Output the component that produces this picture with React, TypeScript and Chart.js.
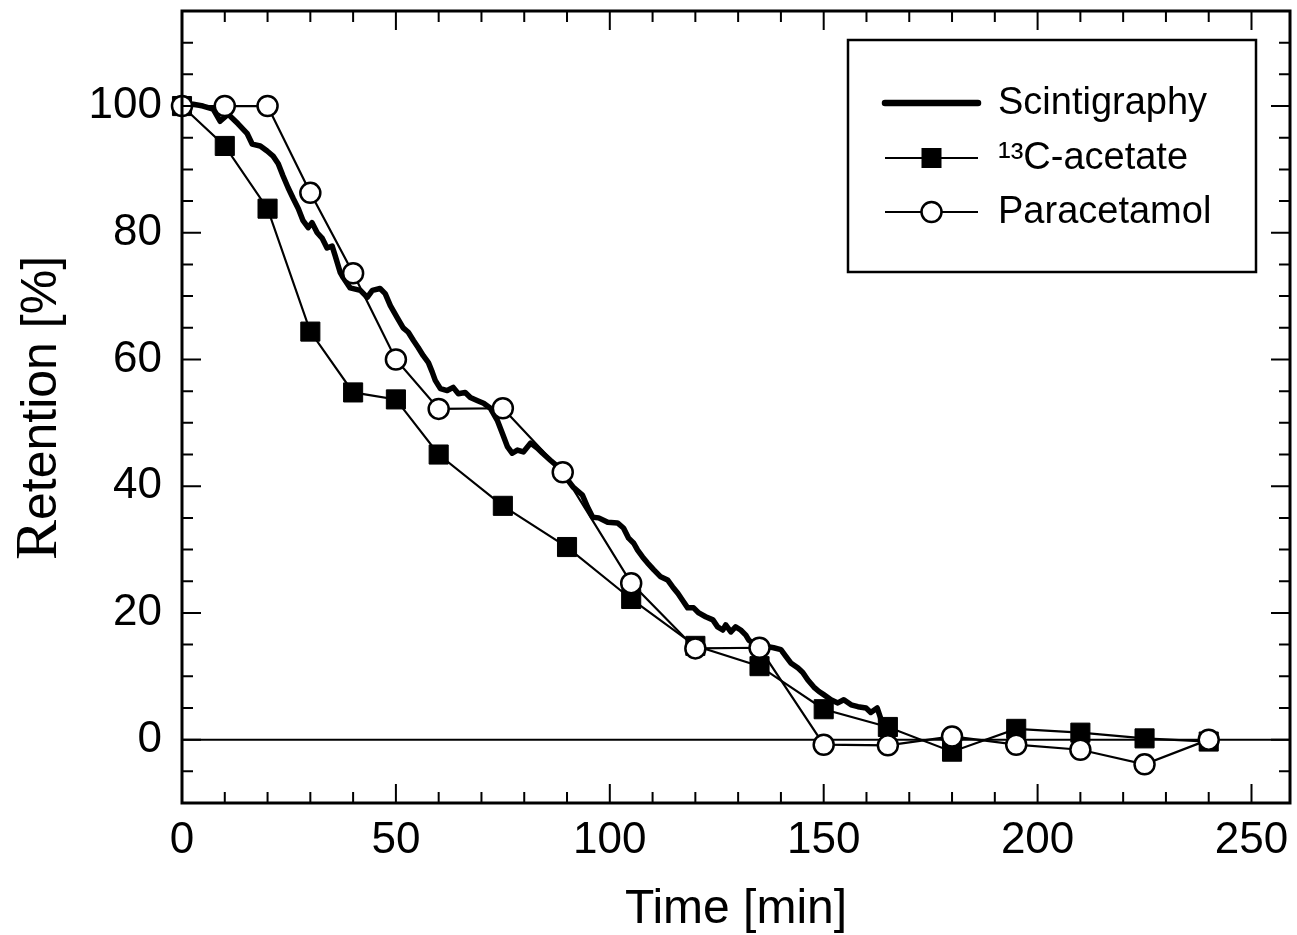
import React, { useEffect, useRef } from "react";
import { Chart, registerables } from "chart.js";

Chart.register(...registerables);

// ---- data ----
const scintTime = [
  0, 2.6, 4.9, 7.3, 8.9, 10.8, 13.1, 15.2, 16.4, 18.3, 19.9, 21.3, 22.5, 23.6, 24.8, 26.0, 27.2, 28.3, 29.5,
  30.4, 31.6, 32.8, 33.9, 35.1, 35.8, 37.0, 37.7, 39.3, 41.7, 43.3, 44.5, 46.3, 47.5, 48.7, 50.3, 51.7, 52.9,
  54.1, 55.2, 56.4, 57.6, 58.5, 59.2, 60.4, 62.0, 63.4, 64.6, 66.2, 67.4, 69.1, 70.5, 72.1, 73.7, 74.9, 76.1,
  77.2, 78.4, 79.8, 81.5, 83.1, 84.3, 86.1, 88.0, 89.7, 91.5, 93.6, 94.8, 96.0, 97.4, 99.5, 101.8, 103.2,
  104.4, 105.6, 106.5, 107.7, 108.8, 110.3, 111.9, 113.5, 114.7, 115.9, 117.0, 118.2, 119.6, 120.8, 122.4,
  124.1, 125.2, 126.4, 127.1, 128.3, 129.4, 130.6, 131.8, 132.5, 134.0, 136.0, 138.3, 140.0, 141.2, 142.3,
  144.0, 145.1, 146.3, 147.7, 148.9, 150.0, 151.7, 153.3, 154.7, 156.4, 158.0, 159.9, 161.0, 162.5, 163.5,
];
const scintRetention = [
  100, 100.3, 100, 99.5, 97.6, 98.7, 97.2, 95.7, 94.0, 93.7, 92.9, 92.1, 90.9, 89.0, 87.1, 85.4, 83.8, 81.9, 80.8,
  81.6, 80.0, 79.1, 77.6, 77.9, 76.4, 73.7, 72.9, 71.3, 70.9, 69.8, 70.9, 71.2, 70.4, 68.5, 66.6, 65.0, 64.3,
  63.0, 61.9, 60.6, 59.5, 58.0, 56.7, 55.4, 55.1, 55.6, 54.6, 54.8, 54.0, 53.5, 53.1, 52.3, 50.4, 48.3, 46.2,
  45.2, 45.7, 45.4, 46.8, 46.0, 45.2, 44.1, 43.0, 41.4, 39.8, 38.6, 36.7, 35.1, 35.0, 34.3, 34.2, 33.4,
  31.8, 31.0, 29.9, 28.8, 27.9, 26.8, 25.7, 25.2, 24.1, 23.1, 22.0, 20.8, 20.8, 20.0, 19.4,
  18.9, 17.8, 17.3, 18.1, 17.0, 17.8, 17.3, 16.5, 15.7, 15.0, 14.8, 14.5, 14.2, 13.1, 12.1,
  11.3, 10.6, 9.4, 8.3, 7.6, 7.1, 6.3, 5.8, 6.3, 5.5, 5.2, 5.0, 4.3, 5.0, 3.0,
];

const acetateTime = [0, 10, 20, 30, 40, 50, 60, 75, 90, 105, 120, 135, 150, 165, 180, 195, 210, 225, 240];
const acetateRetention = [100, 93.7, 83.8, 64.4, 54.8, 53.7, 45.0, 36.9, 30.4, 22.2, 14.8, 11.6, 4.8, 2.0, -1.9, 1.7, 1.1, 0.2, -0.3];

const paracetamolTime = [0, 10, 20, 30, 40, 50, 60, 75, 89, 105, 120, 135, 150, 165, 180, 195, 210, 225, 240];
const paracetamolRetention = [100, 100, 100, 86.3, 73.6, 60.0, 52.2, 52.3, 42.2, 24.7, 14.4, 14.5, -0.8, -0.9, 0.5, -0.8, -1.6, -3.9, 0];

const seriesLabels = ["Scintigraphy", "\u00B9\u00B3C-acetate", "Paracetamol"];
const xTickValues = [0, 50, 100, 150, 200, 250];
const yTickValues = [0, 20, 40, 60, 80, 100];
const xTitle = "Time [min]";
const yTitle = "Retention [%]";

const SANS = "'Liberation Sans', Arial, Helvetica, sans-serif";
const SERIF = "'Liberation Serif', 'Times New Roman', serif";

const toPoints = (xs: number[], ys: number[]) => xs.map((x, i) => ({ x, y: ys[i] }));

const frameTicksPlugin = {
  id: "frameTicks",
  beforeDatasetsDraw(chart: any) {
    const { ctx, chartArea, scales } = chart;
    const y0 = scales.y.getPixelForValue(0);
    ctx.save();
    ctx.strokeStyle = "#000";
    ctx.lineWidth = 2;
    ctx.beginPath();
    ctx.moveTo(chartArea.left, y0);
    ctx.lineTo(chartArea.right, y0);
    ctx.stroke();
    ctx.restore();
  },
  afterDatasetsDraw(chart: any) {
    const { ctx, chartArea, scales } = chart;
    const { left, right, top, bottom } = chartArea;
    const xs = scales.x;
    const ys = scales.y;
    ctx.save();
    ctx.strokeStyle = "#000";
    ctx.lineWidth = 2;
    ctx.beginPath();
    for (let v = 0; v <= xs.max; v += 10) {
      const px = xs.getPixelForValue(v);
      const len = v % 50 === 0 ? 19 : 11;
      ctx.moveTo(px, bottom);
      ctx.lineTo(px, bottom - len);
      ctx.moveTo(px, top);
      ctx.lineTo(px, top + len);
    }
    for (let v = -10; v <= ys.max; v += 5) {
      const py = ys.getPixelForValue(v);
      const len = v % 20 === 0 ? 19 : 11;
      ctx.moveTo(left, py);
      ctx.lineTo(left + len, py);
      ctx.moveTo(right, py);
      ctx.lineTo(right - len, py);
    }
    ctx.stroke();
    ctx.lineWidth = 3;
    ctx.strokeRect(left, top, right - left, bottom - top);
    ctx.restore();
  },
};

const yTitlePlugin = {
  id: "yTitle",
  afterDraw(chart: any) {
    const { ctx } = chart;
    const first = yTitle.slice(0, 1);
    const rest = yTitle.slice(1);
    ctx.save();
    ctx.translate(56, 408);
    ctx.rotate(-Math.PI / 2);
    ctx.fillStyle = "#000";
    ctx.textBaseline = "alphabetic";
    ctx.textAlign = "left";
    ctx.font = `60px ${SERIF}`;
    const wFirst = ctx.measureText(first).width;
    ctx.font = `50px ${SANS}`;
    const wRest = ctx.measureText(rest).width;
    const start = -(wFirst + wRest) / 2;
    ctx.font = `60px ${SERIF}`;
    ctx.fillText(first, start, 0);
    ctx.font = `50px ${SANS}`;
    ctx.fillText(rest, start + wFirst, 0);
    ctx.restore();
  },
};

const legendPlugin = {
  id: "boxLegend",
  afterDraw(chart: any) {
    const { ctx } = chart;
    const bx = 848, by = 40, bw = 408, bh = 232;
    ctx.save();
    ctx.fillStyle = "#fff";
    ctx.fillRect(bx, by, bw, bh);
    ctx.strokeStyle = "#000";
    ctx.lineWidth = 2.5;
    ctx.strokeRect(bx, by, bw, bh);
    const rows = [103, 158, 212];
    const x1 = 885, x2 = 978, xm = (x1 + x2) / 2;
    chart.data.datasets.forEach((ds: any, i: number) => {
      const ry = rows[i];
      ctx.strokeStyle = ds.borderColor;
      ctx.lineWidth = i === 0 ? 6.5 : ds.borderWidth;
      ctx.lineCap = i === 0 ? "round" : "butt";
      ctx.beginPath();
      ctx.moveTo(x1, ry);
      ctx.lineTo(x2, ry);
      ctx.stroke();
      if (ds.pointRadius > 0) {
        ctx.lineWidth = ds.pointBorderWidth;
        ctx.fillStyle = ds.pointBackgroundColor;
        ctx.strokeStyle = ds.pointBorderColor;
        if (ds.pointStyle === "rect") {
          const s = 19;
          ctx.fillRect(xm - s / 2, ry - s / 2, s, s);
          ctx.strokeRect(xm - s / 2, ry - s / 2, s, s);
        } else {
          ctx.beginPath();
          ctx.arc(xm, ry, ds.pointRadius, 0, Math.PI * 2);
          ctx.fill();
          ctx.stroke();
        }
      }
      ctx.fillStyle = "#000";
      ctx.font = `38px ${SANS}`;
      ctx.textBaseline = "middle";
      ctx.textAlign = "left";
      ctx.fillText(ds.label, 998, ry + 1);
    });
    ctx.restore();
  },
};

export default function App() {
  const canvasRef = useRef<HTMLCanvasElement | null>(null);

  useEffect(() => {
    const canvas = canvasRef.current;
    if (!canvas) return;
    const chart = new Chart(canvas, {
      type: "line",
      data: {
        datasets: [
          {
            label: seriesLabels[0],
            data: toPoints(scintTime, scintRetention),
            borderColor: "#000",
            borderWidth: 5.5,
            pointRadius: 0,
            borderJoinStyle: "round",
            borderCapStyle: "round",
            tension: 0,
            order: 3,
            clip: false,
          },
          {
            label: seriesLabels[1],
            data: toPoints(acetateTime, acetateRetention),
            borderColor: "#000",
            borderWidth: 2.2,
            pointStyle: "rect",
            pointRadius: 13.5,
            pointBorderWidth: 1,
            pointBackgroundColor: "#000",
            pointBorderColor: "#000",
            tension: 0,
            order: 2,
            clip: false,
          },
          {
            label: seriesLabels[2],
            data: toPoints(paracetamolTime, paracetamolRetention),
            borderColor: "#000",
            borderWidth: 2.2,
            pointStyle: "circle",
            pointRadius: 10,
            pointBorderWidth: 2.5,
            pointBackgroundColor: "#fff",
            pointBorderColor: "#000",
            tension: 0,
            order: 1,
            clip: false,
          },
        ] as any,
      },
      options: {
        responsive: false,
        animation: false,
        events: [],
        layout: { autoPadding: false, padding: { left: 0, right: 7, top: 11, bottom: 0 } },
        plugins: { legend: { display: false }, tooltip: { enabled: false } },
        scales: {
          x: {
            type: "linear",
            min: 0,
            max: 259,
            grid: { display: false, drawTicks: false },
            border: { display: false },
            afterBuildTicks: (scale: any) => {
              scale.ticks = xTickValues.map((v) => ({ value: v }));
            },
            afterFit: (scale: any) => {
              scale.height = 132;
              scale.paddingLeft = 0;
              scale.paddingRight = 0;
            },
            ticks: {
              color: "#000",
              font: { family: SANS, size: 44 },
              padding: 11,
              maxRotation: 0,
              autoSkip: false,
            },
            title: {
              display: true,
              text: xTitle,
              color: "#000",
              font: { family: SANS, size: 48 },
              padding: { top: 0, bottom: -4 },
            },
          },
          y: {
            type: "linear",
            min: -10,
            max: 115,
            grid: { display: false, drawTicks: false },
            border: { display: false },
            afterBuildTicks: (scale: any) => {
              scale.ticks = yTickValues.map((v) => ({ value: v }));
            },
            afterFit: (scale: any) => {
              scale.width = 182;
              scale.paddingTop = 0;
              scale.paddingBottom = 0;
            },
            ticks: {
              color: "#000",
              font: { family: SANS, size: 44 },
              padding: 20,
              autoSkip: false,
            },
          },
        },
      } as any,
      plugins: [frameTicksPlugin, yTitlePlugin, legendPlugin],
    });
    return () => chart.destroy();
  }, []);

  return (
    <div style={{ position: "fixed", left: 0, top: 0, width: 1297, height: 935, background: "#fff" }}>
      <canvas ref={canvasRef} width={1297} height={935} style={{ display: "block" }} />
    </div>
  );
}
